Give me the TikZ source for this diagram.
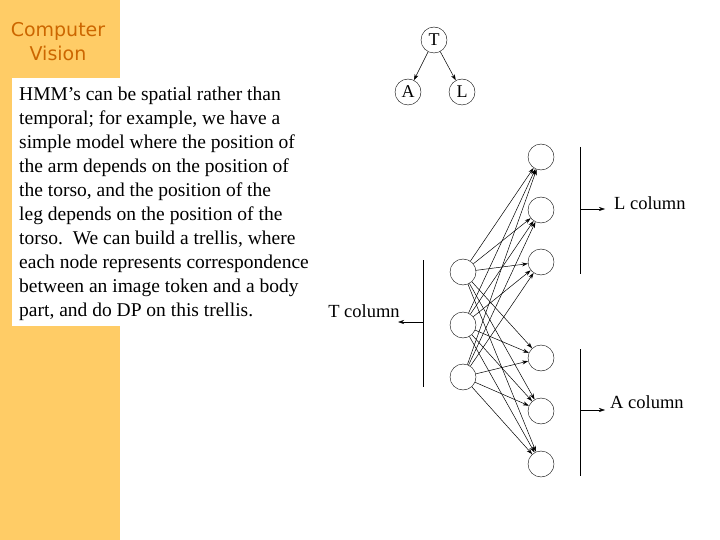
\documentclass[tikz,border=0pt]{standalone}
\usepackage{fontspec}
\setmainfont{Liberation Serif}
\newfontfamily\cvfont{DejaVu Sans}
\usetikzlibrary{arrows.meta}
\begin{document}
\begin{tikzpicture}[x=1pt,y=-1pt,
  st/.style={circle,draw,minimum size=26pt,inner sep=0pt,font=\fontsize{18}{18}\selectfont},
  ed/.style={-{Stealth[length=6pt,width=4pt]},line width=0.5pt},
  lab/.style={font=\fontsize{18.5}{18.5}\selectfont,inner sep=0pt}]
\useasboundingbox (0,0) rectangle (720,540);
\fill[white] (0,0) rectangle (720,540);
\fill[fill={rgb,255:red,255;green,204;blue,102}] (0,0) rectangle (120,540);
\node[font=\cvfont\fontsize{19}{24}\selectfont,text={rgb,255:red,204;green,102;blue,0},align=center] (cv) at (58,42) {Computer\\Vision};
\fill[white] (12,78) rectangle (322,326);
\node[anchor=north west,align=left,inner sep=0pt,font=\fontsize{19.5}{24}\selectfont] (txt) at (19,87) {HMM’s can be spatial rather than\\temporal; for example, we have a\\simple model where the position of\\the arm depends on the position of\\the torso, and the position of the\\leg depends on the position of the\\torso.\ \ We can build a trellis, where\\each node represents correspondence\\between an image token and a body\\part, and do DP on this trellis.};
% tree
\node[st] (T) at (434,40) {T};
\node[st] (A) at (408,92) {A};
\node[st] (L) at (462,92) {L};
\draw[ed] (T) -- (A);
\draw[ed] (T) -- (L);
% trellis
\foreach \i/\y in {1/272,2/325,3/377} \node[st] (t\i) at (463,\y) {};
\foreach \i/\y in {1/157,2/210,3/262} \node[st] (l\i) at (541,\y) {};
\foreach \i/\y in {1/358,2/411,3/464} \node[st] (a\i) at (541,\y) {};
\foreach \i in {1,2,3}{\foreach \j in {1,2,3}{
  \draw[ed] (t\i) -- (l\j);
  \draw[ed] (t\i) -- (a\j);}}
% brackets
\coordinate (tb1) at (423,260); \coordinate (tb2) at (423,387);
\coordinate (tm) at (423,322); \coordinate (te) at (398,322);
\draw (tb1) -- (tb2);
\draw[ed] (tm) -- (te);
\node[lab,anchor=base] (tl) at (364,317) {T column};
\coordinate (lb1) at (580,147); \coordinate (lb2) at (580,274);
\coordinate (lm) at (580,209); \coordinate (le) at (605,209);
\draw (lb1) -- (lb2);
\draw[ed] (lm) -- (le);
\node[lab,anchor=base west] (ll) at (614,210) {L column};
\coordinate (ab1) at (580,349); \coordinate (ab2) at (580,476);
\coordinate (am) at (580,410); \coordinate (ae) at (605,410);
\draw (ab1) -- (ab2);
\draw[ed] (am) -- (ae);
\node[lab,anchor=base west] (al) at (610,408) {A column};
\end{tikzpicture}
\end{document}
